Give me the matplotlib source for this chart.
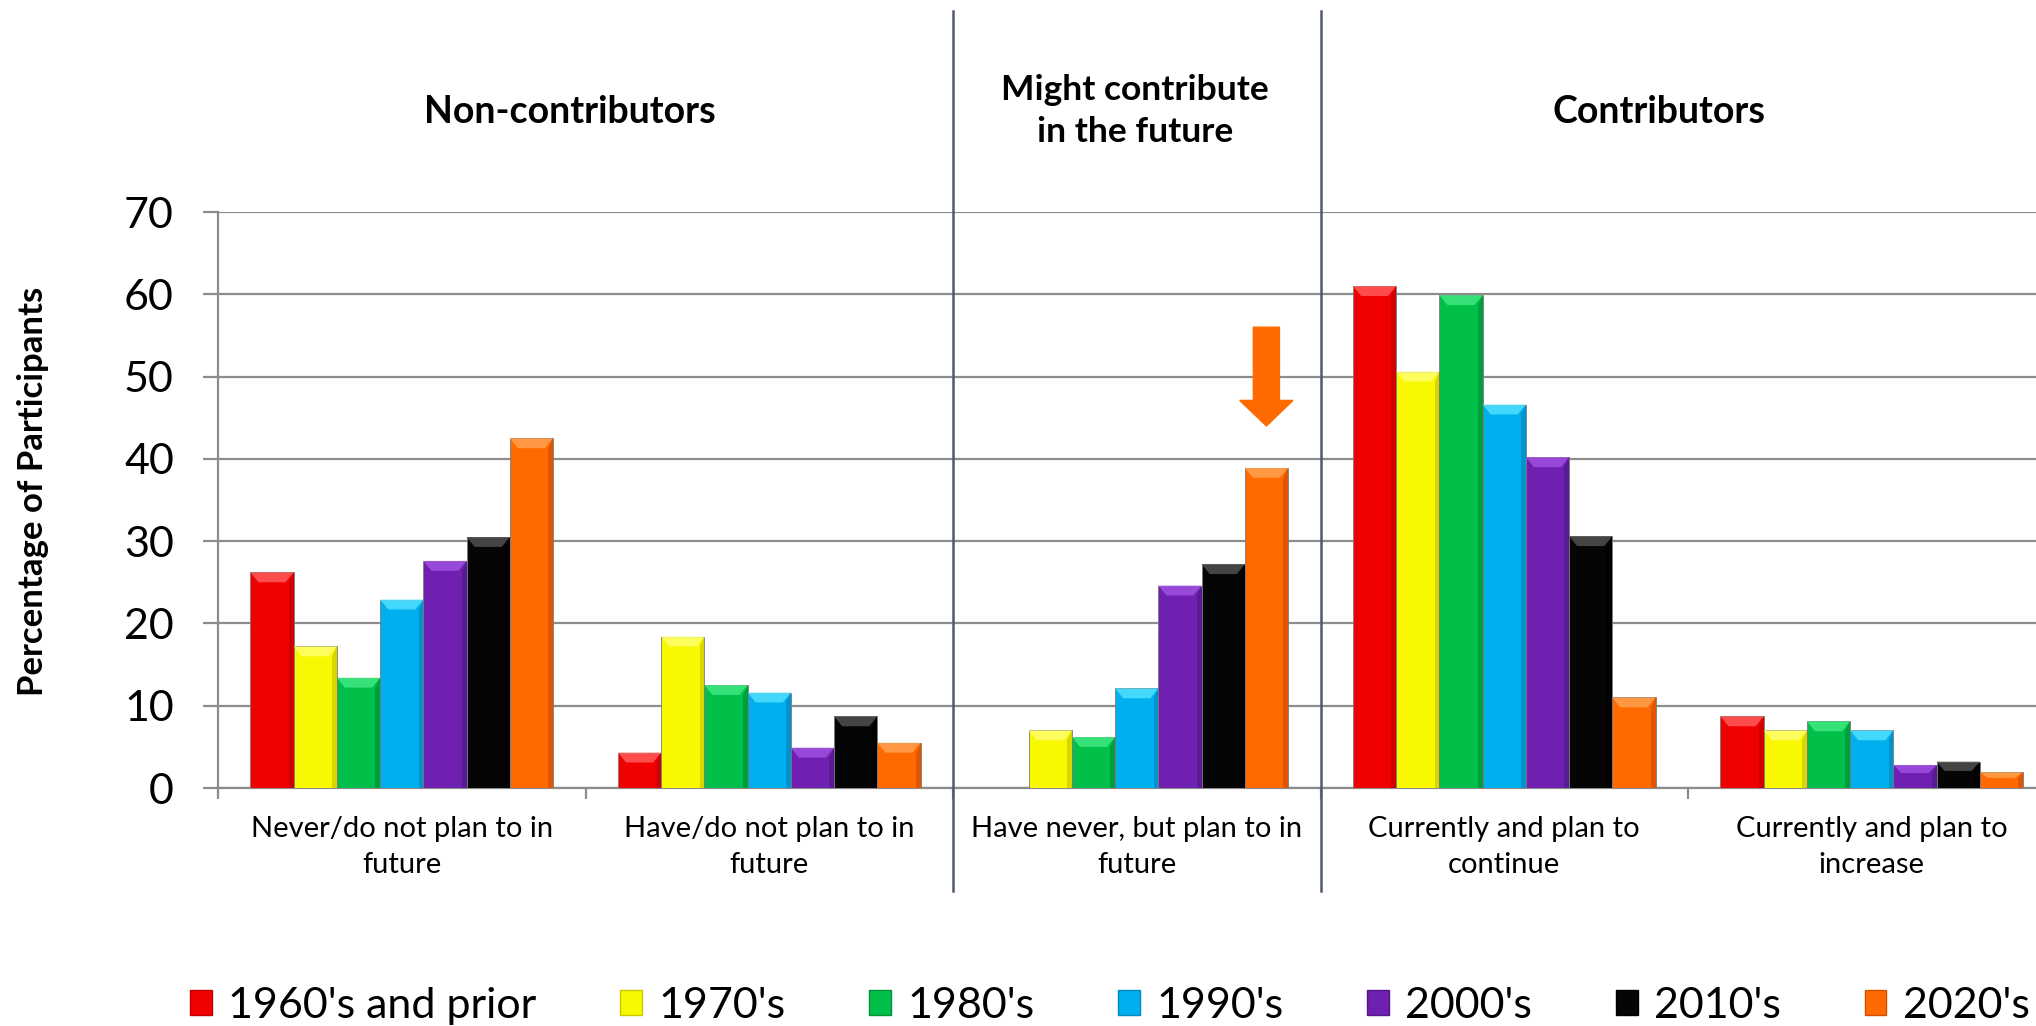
import matplotlib
matplotlib.use("Agg")
import matplotlib.pyplot as plt
from matplotlib.patches import Polygon, Rectangle, FancyArrow
from matplotlib.lines import Line2D
import matplotlib.transforms as mtransforms
import numpy as np

plt.rcParams['font.family'] = ['Lato', 'DejaVu Sans']

categories = ["Never/do not plan to in\nfuture", "Have/do not plan to in\nfuture",
              "Have never, but plan to in\nfuture", "Currently and plan to\ncontinue",
              "Currently and plan to\nincrease"]
series = ["1960's and prior", "1970's", "1980's", "1990's", "2000's", "2010's", "2020's"]
values = {
    "1960's and prior": [26.2, 4.3, 0.0, 61.0, 8.7],
    "1970's":           [17.2, 18.4, 7.0, 50.6, 7.0],
    "1980's":           [13.4, 12.5, 6.2, 59.9, 8.1],
    "1990's":           [22.9, 11.6, 12.1, 46.6, 7.0],
    "2000's":           [27.6, 4.9, 24.6, 40.2, 2.8],
    "2010's":           [30.5, 8.7, 27.2, 30.6, 3.2],
    "2020's":           [42.5, 5.5, 38.9, 11.0, 1.9],
}
colors = ["#f00000", "#f8f800", "#00c04a", "#00b0ee", "#7020b0", "#050505", "#ff6a00"]
lights = ["#ff5a5a", "#ffff70", "#40e880", "#50e0ff", "#a050e0", "#505050", "#ffa050"]
darks = ["#c00000", "#c8c800", "#009038", "#0088c0", "#50188a", "#000000", "#d05000"]
yticks = [0, 10, 20, 30, 40, 50, 60, 70]
group_titles = ["Non-contributors", "Might contribute\nin the future", "Contributors"]
arrow_top, arrow_tip = 56.0, 44.0

W, H = 2036, 1026
fig = plt.figure(figsize=(W / 100, H / 100), dpi=100)
ax = fig.add_axes([218 / W, 238 / H, (2055.5 - 218) / W, (788 - 212) / H])

n = len(series)
bw = 0.1176
x = np.arange(len(categories))
grid_c = "#8c8c8c"
ax.set_axisbelow(True)
ax.yaxis.grid(True, color=grid_c, linewidth=1.6)
for i, s in enumerate(series):
    cont = ax.bar(x + (i - (n - 1) / 2) * bw, values[s], width=bw, color=colors[i],
                  edgecolor="#7a7a7a", linewidth=0.6, zorder=3)
    for r in cont.patches:
        x0, w, h = r.get_x(), r.get_width(), r.get_height()
        if h <= 0:
            continue
        dx = 0.022
        dy = min(1.2, h * 0.35)
        ax.add_patch(Polygon([(x0, h), (x0 + w, h), (x0 + w - dx, h - dy), (x0 + dx, h - dy)],
                             closed=True, facecolor=lights[i], edgecolor="none", zorder=4, alpha=0.85))
        ax.add_patch(Polygon([(x0 + w, h), (x0 + w, 0), (x0 + w - dx * 0.6, 0), (x0 + w - dx * 0.6, h - dy)],
                             closed=True, facecolor=darks[i], edgecolor="none", zorder=4, alpha=0.7))

ax.set_xlim(-0.5, len(categories) - 0.5)
ax.set_ylim(0, 70)
ax.set_yticks(yticks)
ax.set_yticklabels([str(v) for v in yticks], fontsize=31)
ax.tick_params(axis='y', length=10.8, width=1.6, color=grid_c, pad=21)
ax.set_xticks(np.arange(len(categories) + 1) - 0.5)
ax.set_xticklabels([])
ax.set_xticks(x, minor=True)
ax.set_xticklabels(categories, minor=True, fontsize=21, linespacing=1.5)
ax.tick_params(axis='x', which='major', length=8, width=1.6, color=grid_c)
ax.tick_params(axis='x', which='minor', length=0, pad=20)
for sp in ["top", "right"]:
    ax.spines[sp].set_visible(False)
for sp in ["left", "bottom"]:
    ax.spines[sp].set_color(grid_c)
    ax.spines[sp].set_linewidth(1.6)

# separators
trans = mtransforms.blended_transform_factory(ax.transData, fig.transFigure)
for xs in [1.5, 2.5]:
    fig.add_artist(Line2D([xs, xs], [1 - 11 / H, 1 - 891 / H], transform=trans,
                          color="#4d5a72", linewidth=1.8, clip_on=False))

# arrow on 2020's bar of third category
xa = 2 + (n - 1 - (n - 1) / 2) * bw
ax.add_patch(FancyArrow(xa, arrow_top, 0, arrow_tip - arrow_top, width=0.071,
                        head_width=0.145, head_length=3.1, length_includes_head=True,
                        color="#ff6a00", zorder=5))

# group titles
fig.text(570 / W, 1 - 112 / H, group_titles[0], ha='center', va='center', fontsize=27, fontweight='bold')
fig.text(1135 / W, 1 - 111 / H, group_titles[1], ha='center', va='center', fontsize=25.5,
         fontweight='bold', linespacing=1.4)
fig.text(1659 / W, 1 - 112 / H, group_titles[2], ha='center', va='center', fontsize=27, fontweight='bold')

fig.text(33 / W, 1 - 491 / H, "Percentage of Participants", rotation=90, ha='center', va='center',
         fontsize=25, fontweight='bold')

handles = [Rectangle((0, 0), 1, 1, facecolor=c, edgecolor=d, linewidth=1) for c, d in zip(colors, darks)]
fig.legend(handles, series, loc='center', bbox_to_anchor=(1110 / W, 1 - 1006 / H), ncol=7,
           frameon=False, fontsize=31, handlelength=0.5, handleheight=0.5, handletextpad=0.38,
           columnspacing=1.95, borderpad=0)

fig.savefig("out.png", dpi=100)
